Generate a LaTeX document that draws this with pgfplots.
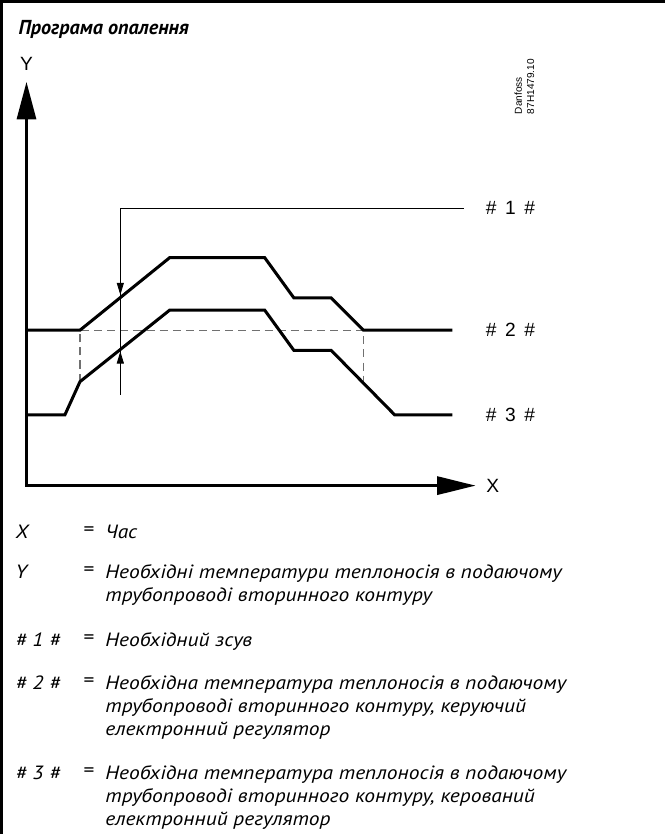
\documentclass[border=0pt]{standalone}
\usepackage{fontspec}
\setmainfont{PT Sans}
\newfontfamily\arial{Liberation Sans}
\newfontfamily\lgfam[FakeStretch=1.12]{PT Sans}
\usepackage{pgfplots}
\pgfplotsset{compat=1.18}
\usetikzlibrary{arrows.meta}
\definecolor{dashgray}{HTML}{707070}
\newcommand{\lgfont}{\lgfam\itshape\fontsize{19}{23}\selectfont}
\newcommand{\eqfont}{\lgfam\fontsize{19}{23}\selectfont}
\newcommand{\hl}[1]{\#\hspace{0.45em}#1\hspace{0.45em}\#}
\begin{document}
\begin{tikzpicture}
\begin{axis}[
  width=665pt, height=835pt, scale only axis,
  xmin=0, xmax=665, ymin=0, ymax=835, y dir=reverse,
  hide axis, clip=false,
]
% frame (left and top)
\addplot[line width=2.5pt] coordinates {(7,835) (7,10) (665,10)};
% axes with arrows
\addplot[line width=2.5pt, {Triangle[length=37pt,width=19pt]}-{Triangle[length=38pt,width=18pt]}]
  coordinates {(32,90) (32,490) (477,490)};
% dashed reference
\addplot[dashgray, line width=1.2pt, dash pattern=on 8pt off 5pt] coordinates {(85,387) (85,336) (366,336) (366,388)};
% #2 curve
\addplot[black, line width=3pt] coordinates {(32,336) (85,336) (174,264) (268,264) (297,304) (334,304) (366,336) (454,336)};
% #3 curve
\addplot[black, line width=3pt] coordinates {(32,420) (70,420) (85,387) (174,316) (268,316) (297,356) (334,356) (397,420) (454,420)};
% offset marker
\addplot[black, line width=0.9pt] coordinates {(125,400) (125,215) (466,215)};
\addplot[black, line width=0.9pt, -{Triangle[length=12pt,width=7pt]}] coordinates {(125,288) (125,301)};
\addplot[black, line width=0.9pt, -{Triangle[length=12pt,width=7pt]}] coordinates {(125,371) (125,357)};
% labels
\node[inner sep=0, font=\arial\fontsize{19}{20}\selectfont] at (axis cs:32,72) {Y};
\node[inner sep=0, font=\arial\fontsize{19}{20}\selectfont] at (axis cs:494,490) {X};
\node[anchor=west, inner sep=0, font=\arial\fontsize{19}{20}\selectfont] at (axis cs:487,215) {\hl{1}};
\node[anchor=west, inner sep=0, font=\arial\fontsize{19}{20}\selectfont] at (axis cs:487,336) {\hl{2}};
\node[anchor=west, inner sep=0, font=\arial\fontsize{19}{20}\selectfont] at (axis cs:487,420) {\hl{3}};
\node[rotate=90, anchor=base west, inner sep=0, font=\arial\fontsize{10}{12}\selectfont] at (axis cs:523,122) {Danfoss};
\node[rotate=90, anchor=base west, inner sep=0, font=\arial\fontsize{10}{12}\selectfont] at (axis cs:535,122) {87H1479.10};
% title
\node[anchor=base west, inner sep=0, font=\bfseries\itshape\fontsize{20}{24}\selectfont] at (axis cs:24,43) {Програма опалення};
% legend labels
\node[anchor=base west, inner sep=0, font=\lgfont] at (axis cs:21,542) {X};
\node[anchor=base west, inner sep=0, font=\lgfont] at (axis cs:21,582) {Y};
\node[anchor=base west, inner sep=0, font=\lgfont] at (axis cs:21,649) {\# 1 \#};
\node[anchor=base west, inner sep=0, font=\lgfont] at (axis cs:21,692) {\# 2 \#};
\node[anchor=base west, inner sep=0, font=\lgfont] at (axis cs:21,781) {\# 3 \#};
\node[inner sep=0, font=\eqfont] at (axis cs:94,535) {=};
\node[inner sep=0, font=\eqfont] at (axis cs:94,575) {=};
\node[inner sep=0, font=\eqfont] at (axis cs:94,642) {=};
\node[inner sep=0, font=\eqfont] at (axis cs:94,685) {=};
\node[inner sep=0, font=\eqfont] at (axis cs:94,774) {=};
\node[anchor=base west, inner sep=0, font=\lgfont] at (axis cs:110,542) {Час};
\node[anchor=base west, inner sep=0, font=\lgfont] at (axis cs:110,582) {Необхідні температури теплоносія в подаючому};
\node[anchor=base west, inner sep=0, font=\lgfont] at (axis cs:110,605) {трубопроводі вторинного контуру};
\node[anchor=base west, inner sep=0, font=\lgfont] at (axis cs:110,649) {Необхідний зсув};
\node[anchor=base west, inner sep=0, font=\lgfont] at (axis cs:110,692) {Необхідна температура теплоносія в подаючому};
\node[anchor=base west, inner sep=0, font=\lgfont] at (axis cs:110,715) {трубопроводі вторинного контуру, керуючий};
\node[anchor=base west, inner sep=0, font=\lgfont] at (axis cs:110,738) {електронний регулятор};
\node[anchor=base west, inner sep=0, font=\lgfont] at (axis cs:110,781) {Необхідна температура теплоносія в подаючому};
\node[anchor=base west, inner sep=0, font=\lgfont] at (axis cs:110,804) {трубопроводі вторинного контуру, керований};
\node[anchor=base west, inner sep=0, font=\lgfont] at (axis cs:110,827) {електронний регулятор};
\end{axis}
\end{tikzpicture}
\end{document}
